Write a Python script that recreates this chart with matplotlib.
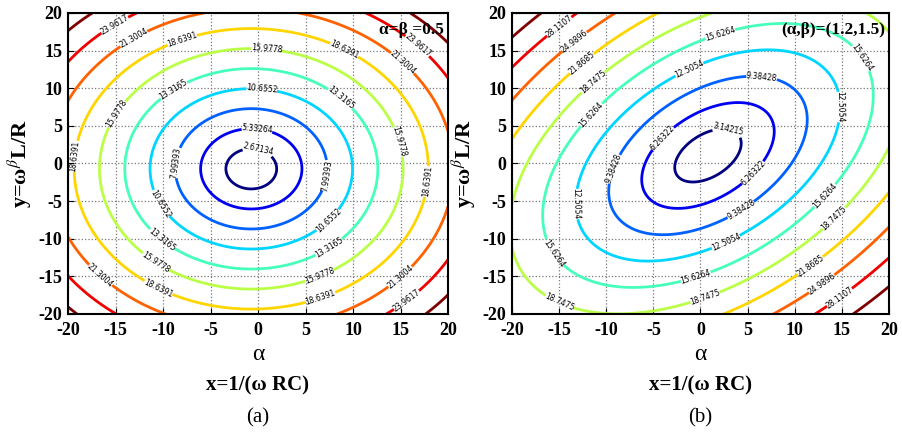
import numpy as np
import matplotlib
matplotlib.use("Agg")
import matplotlib.pyplot as plt
from matplotlib.colors import LinearSegmentedColormap

plt.rcParams['font.family'] = ['Liberation Serif', 'DejaVu Serif']
plt.rcParams['mathtext.fontset'] = 'stix'
plt.rcParams['axes.unicode_minus'] = False

# fractional orders for the two panels
orders_a = (0.5, 0.5)
orders_b = (1.2, 1.5)

# contour levels of |Z|/R (as labelled on the curves)
levels_a = [2.67134, 5.33264, 7.99393, 10.6552, 13.3165,
            15.9778, 18.6391, 21.3004, 23.9617, 26.6230]
levels_b = [3.14215, 6.26322, 9.38428, 12.5054, 15.6264,
            18.7475, 21.8685, 24.9896, 28.1107, 31.2318]

ticks = [-20, -15, -10, -5, 0, 5, 10, 15, 20]
notes = ['α=β =0.5', '(α,β)=(1.2,1.5)']
panel_tags = ['(a)', '(b)']

# matlab style jet
jet = LinearSegmentedColormap('mjet', {
    'red': [(0, 0, 0), (3/8, 0, 0), (5/8, 1, 1), (7/8, 1, 1), (1, 0.5, 0.5)],
    'green': [(0, 0, 0), (1/8, 0, 0), (3/8, 1, 1), (5/8, 1, 1), (7/8, 0, 0), (1, 0, 0)],
    'blue': [(0, 0.5, 0.5), (1/8, 1, 1), (3/8, 1, 1), (5/8, 0, 0), (1, 0, 0)],
})

xs = np.linspace(-20, 20, 401)
X, Y = np.meshgrid(xs, xs)


def impedance(alpha, beta):
    # Z/R = 1 + x (j)^-alpha + y (j)^beta
    z = 1 + X * (1j) ** (-alpha) + Y * (1j) ** beta
    return np.abs(z)


def label_points(ax, cs, spacing=150):
    pts = []
    for path in cs.get_paths():
        for seg in path.to_polygons(closed_only=False):
            if len(seg) < 3:
                continue
            disp = ax.transData.transform(seg)
            d = np.r_[0, np.cumsum(np.hypot(*np.diff(disp, axis=0).T))]
            n = int(d[-1] // spacing)
            if n == 0 and d[-1] > 70:
                n = 1
            for k in range(n):
                s = (k + 0.5) * d[-1] / n
                i = min(np.searchsorted(d, s), len(seg) - 1)
                pts.append((seg[i, 0], seg[i, 1]))
    return pts


fig = plt.figure(figsize=(9.03, 4.34), dpi=100)
W, H = 903, 434
boxes = [(68, 448), (512, 889)]

for k, (orders, levels) in enumerate([(orders_a, levels_a), (orders_b, levels_b)]):
    x0, x1 = boxes[k]
    ax = fig.add_axes([x0 / W, (H - 314) / H, (x1 - x0) / W, 301 / H])
    Z = impedance(*orders)
    cs = ax.contour(X, Y, Z, levels=levels, cmap=jet, linewidths=2)
    ax.set_xlim(-20, 20)
    ax.set_ylim(-20, 20)
    ax.set_xticks(ticks)
    ax.set_yticks(ticks)
    ax.grid(True, ls=':', color='#777777', lw=0.9)
    ax.tick_params(direction='in', length=4, labelsize=13)
    ax.tick_params(axis='x', pad=6)
    ax.tick_params(axis='y', pad=4)
    for lab in ax.get_xticklabels() + ax.get_yticklabels():
        lab.set_fontweight('bold')
    for sp in ax.spines.values():
        sp.set_linewidth(1.5)
    ax.clabel(cs, manual=label_points(ax, cs), fmt='%g', fontsize=5.5,
              inline=True, inline_spacing=3, colors='k')
    for t in cs.labelTexts:
        t.set_family('DejaVu Sans')
    ax.set_ylabel('y=ω$^{\\beta}$L/R', fontsize=16, fontweight='bold',
                  labelpad=3)
    ax.set_xlabel('α', fontsize=17, labelpad=3)
    ax.text(0.99, 0.97, notes[k], transform=ax.transAxes, ha='right',
            va='top', fontsize=12.5, fontweight='bold')
    cx = (x0 + x1) / 2 / W
    fig.text(cx, 1 - 385 / H, 'x=1/(ω RC)', ha='center', va='center',
             fontsize=15, fontweight='bold')
    fig.text(cx, 1 - 418 / H, panel_tags[k], ha='center', va='center',
             fontsize=15)

fig.savefig('out.png', dpi=100)
